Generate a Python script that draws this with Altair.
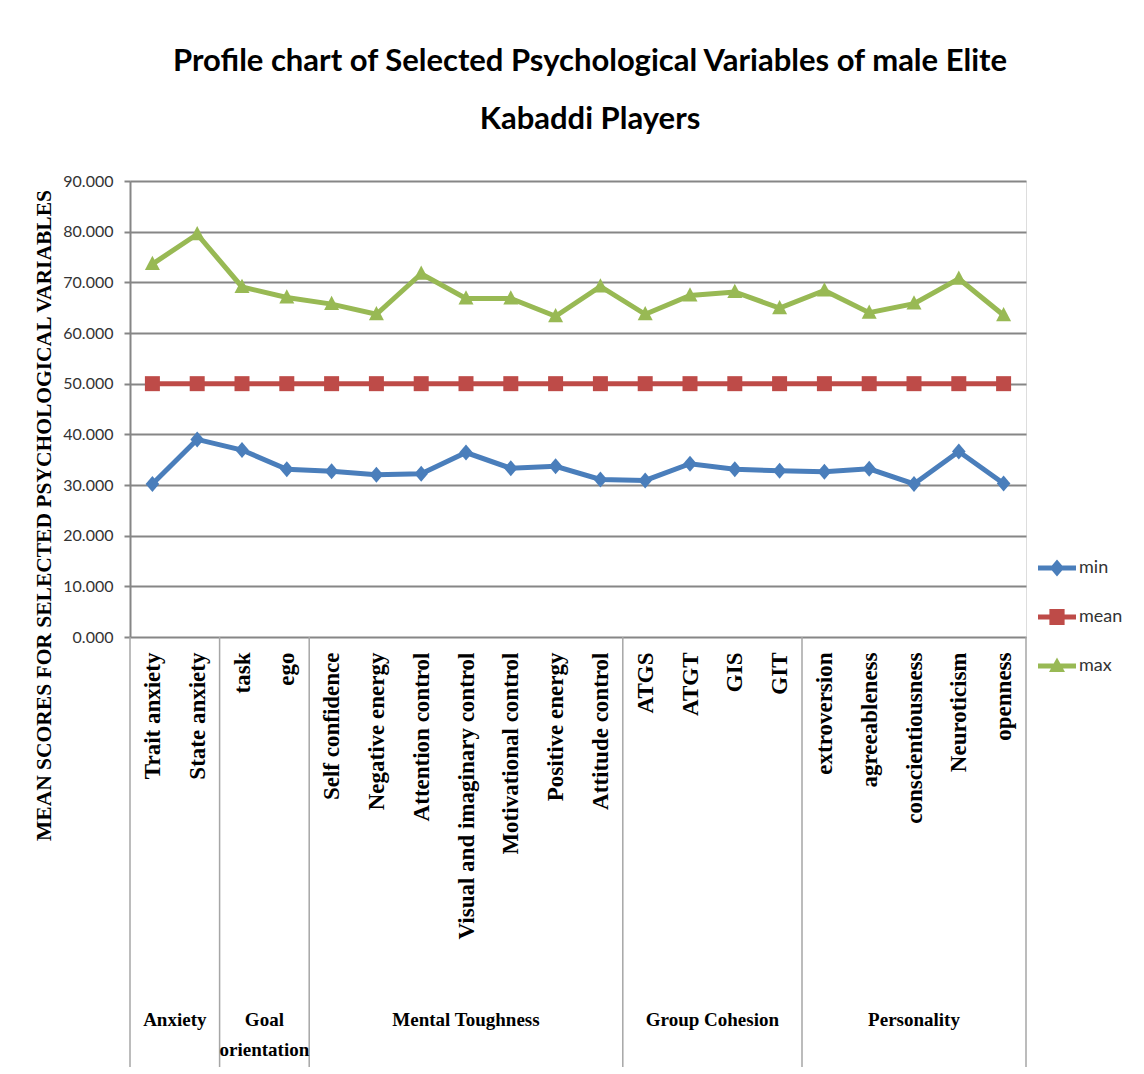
import json
import altair as alt
import pandas as pd

# ---------------- data ----------------
categories = [
    "Trait anxiety", "State anxiety", "task", "ego", "Self confidence",
    "Negative energy", "Attention control", "Visual and imaginary control",
    "Motivational control", "Positive energy", "Attitude control",
    "ATGS", "ATGT", "GIS", "GIT", "extroversion", "agreeableness",
    "conscientiousness", "Neuroticism", "openness",
]
min_scores = [30.2, 39.0, 36.9, 33.1, 32.7, 32.0, 32.2, 36.4, 33.3, 33.7,
              31.1, 30.9, 34.2, 33.1, 32.8, 32.6, 33.2, 30.2, 36.6, 30.3]
mean_scores = [50.0, 50.0, 50.0, 50.0, 50.0, 50.0, 50.0, 50.0, 50.0, 50.0,
               50.0, 50.0, 50.0, 50.0, 50.0, 50.0, 50.0, 50.0, 50.0, 50.0]
max_scores = [73.6, 79.5, 69.1, 67.0, 65.7, 63.7, 71.7, 66.8, 66.8, 63.3,
              69.2, 63.7, 67.4, 68.1, 64.9, 68.4, 64.0, 65.8, 70.7, 63.5]

series_names = ["min", "mean", "max"]
series_colors = ["#4A7EBB", "#BE4B48", "#98B954"]

group_names = ["Anxiety", "Goal\norientation", "Mental Toughness",
               "Group Cohesion", "Personality"]
group_sizes = [2, 2, 7, 4, 5]

y_ticks = [0, 10, 20, 30, 40, 50, 60, 70, 80, 90]

# ---------------- tables ----------------
rows = []
for i, cat in enumerate(categories):
    for s, vals in zip(series_names, [min_scores, mean_scores, max_scores]):
        rows.append({"idx": i, "category": cat, "series": s, "value": vals[i]})
df = pd.DataFrame(rows)

bounds = [-0.5]
for n in group_sizes:
    bounds.append(bounds[-1] + n)
centers = [(bounds[k] + bounds[k + 1]) / 2 for k in range(len(group_sizes))]
sep_df = pd.DataFrame({"idx": bounds})
grp_df = pd.DataFrame({"idx": centers, "label": group_names})

# ---------------- style ----------------
W, H = 896, 456
GRID = "#868686"
SANS = "Lato, Open Sans, sans-serif"
SERIF = "Liberation Serif, Times New Roman, serif"

label_expr = json.dumps(categories) + "[datum.value]"

x_enc = alt.X(
    "idx:Q",
    scale=alt.Scale(domain=[-0.5, len(categories) - 0.5], nice=False, zero=False),
    axis=alt.Axis(
        values=list(range(len(categories))),
        labelExpr=label_expr,
        labelAngle=270,
        labelAlign="right",
        labelBaseline="middle",
        labelFont=SERIF,
        labelFontWeight="bold",
        labelFontSize=23,
        labelColor="#000000",
        labelPadding=15,
        labelLimit=500,
        labelOverlap=False,
        labelFlush=False,
        ticks=False,
        domain=False,
        grid=False,
        title=None,
    ),
)

y_enc = alt.Y(
    "value:Q",
    scale=alt.Scale(domain=[0, 90], nice=False, zero=True),
    axis=alt.Axis(
        values=y_ticks,
        format=".3f",
        labelFont=SANS,
        labelFontSize=16,
        labelColor="#333333",
        labelPadding=11,
        tickSize=6,
        tickColor=GRID,
        tickWidth=2,
        domainColor=GRID,
        domainWidth=2,
        grid=True,
        gridColor=GRID,
        gridWidth=2,
        title="MEAN SCORES FOR SELECTED PSYCHOLOGICAL  VARIABLES",
        titleFont=SERIF,
        titleFontWeight="bold",
        titleFontSize=21.5,
        titleColor="#000000",
        titleAngle=270,
        titleAlign="center",
        titleBaseline="middle",
        titleX=-86,
        titleY=334,
    ),
)

color_scale = alt.Scale(domain=series_names, range=series_colors)

base = alt.Chart(df)

lines = base.mark_line(strokeWidth=5).encode(
    x=x_enc,
    y=y_enc,
    color=alt.Color("series:N", scale=color_scale, legend=None),
    detail="series:N",
)

marker_paths = {
    "min": "M0,-1L0.85,0L0,1L-0.85,0Z",
    "mean": "M-1,-1H1V1H-1Z",
    "max": "M0,-1.1L1,0.8H-1Z",
}
marker_sizes = {"min": 256, "mean": 225, "max": 225}

point_layers = []
for s in series_names:
    point_layers.append(
        base.transform_filter(alt.datum.series == s)
        .mark_point(filled=True, opacity=1, shape=marker_paths[s],
                    size=marker_sizes[s], strokeWidth=0)
        .encode(
            x=x_enc,
            y=y_enc,
            color=alt.Color("series:N", scale=color_scale, legend=None),
        )
    )

# legend: line + marker symbols (invisible mark layer that only carries the legend)
legend_paths = [
    "M-1,-0.13H1V0.13H-1Z M0,-0.45L0.38,0L0,0.45L-0.38,0Z",
    "M-1,-0.13H1V0.13H-1Z M-0.4,-0.42H0.4V0.42H-0.4Z",
    "M-1,-0.13H1V0.13H-1Z M0,-0.45L0.42,0.32H-0.42Z",
]
legend_def = alt.Legend(
    orient="none",
    legendX=908,
    legendY=368,
    title=None,
    labelFont=SANS,
    labelFontSize=18,
    labelColor="#333333",
    labelOffset=3,
    symbolSize=1444,
    symbolStrokeWidth=0,
    symbolOpacity=1,
    rowPadding=21,
)
legend_layer = (
    base.mark_point(filled=True, opacity=0, size=1444, strokeWidth=0)
    .encode(
        x=x_enc,
        y=y_enc,
        color=alt.Color("series:N", scale=color_scale, legend=legend_def),
        shape=alt.Shape("series:N",
                        scale=alt.Scale(domain=series_names, range=legend_paths),
                        legend=legend_def),
    )
)

separators = alt.Chart(sep_df).mark_rule(color="#A6A6A6", strokeWidth=1.5).encode(
    x=x_enc,
    y=alt.value(H),
    y2=alt.value(H + 433),
)

group_text = alt.Chart(grp_df).mark_text(
    font=SERIF, fontWeight="bold", fontSize=19, color="#000000",
    baseline="top", align="center", lineBreak="\n", lineHeight=30,
).encode(
    x=x_enc,
    y=alt.value(830),
    text="label:N",
)

chart = alt.layer(legend_layer, lines, *point_layers, separators, group_text).resolve_legend(
    color="independent", shape="independent"
).properties(
    width=W,
    height=H,
    title=alt.TitleParams(
        text=["Profile chart of Selected Psychological Variables of male Elite",
              "Kabaddi Players"],
        font=SANS,
        fontSize=31,
        fontWeight="bold",
        color="#000000",
        anchor="middle",
        lineHeight=58,
        offset=37,
        dx=12,
    ),
    autosize=alt.AutoSizeParams(type="none"),
    padding={"left": 122, "top": 173, "right": 110, "bottom": 430},
).configure_view(stroke=None).configure(background="#ffffff")

chart.save("out.html", embed_options={"renderer": "svg", "actions": False})
